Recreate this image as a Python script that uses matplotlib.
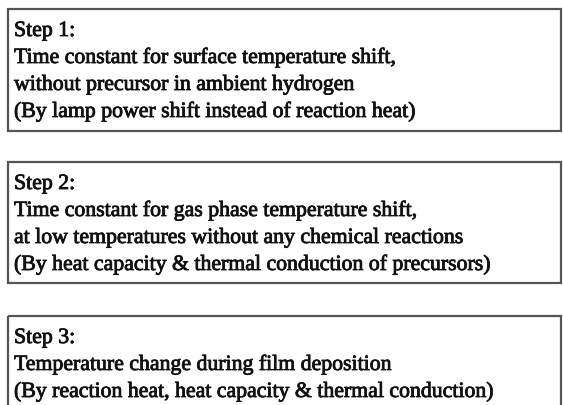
import matplotlib.pyplot as plt
import matplotlib.patheffects as pe
from matplotlib.patches import Rectangle

# Text of the three boxes
step_titles = ["Step 1:", "Step 2:", "Step 3:"]
step_lines = [
    ["Time constant for surface temperature shift,",
     "without precursor in ambient hydrogen",
     "(By lamp power shift instead of reaction heat)"],
    ["Time constant for gas phase temperature shift,",
     "at low temperatures without any chemical reactions",
     "(By heat capacity & thermal conduction of precursors)"],
    ["Temperature change during film deposition",
     "(By reaction heat, heat capacity & thermal conduction)"],
]

# layout (pixels)
W, H = 563, 406
box_left, box_right = 8, 561
box_tops = [10, 163, 317]
box_bottoms = [132, 284, 412]
line_gap = 27

fig = plt.figure(figsize=(W / 100, H / 100), dpi=100)
ax = fig.add_axes([0, 0, 1, 1])
ax.set_xlim(0, W)
ax.set_ylim(H, 0)
ax.axis("off")

thick = [pe.withStroke(linewidth=0.6, foreground="#111111")]

for i, title in enumerate(step_titles):
    ax.add_patch(Rectangle((box_left, box_tops[i]), box_right - box_left,
                           box_bottoms[i] - box_tops[i], fill=False,
                           edgecolor="#555555", linewidth=1.6))
    lines = [title] + step_lines[i]
    for j, txt in enumerate(lines):
        ax.text(14, box_tops[i] + 27 + j * line_gap, txt, fontsize=15.7,
                family="Liberation Serif", color="#111111", va="baseline",
                ha="left", path_effects=thick)

fig.savefig("out.png", dpi=100)
